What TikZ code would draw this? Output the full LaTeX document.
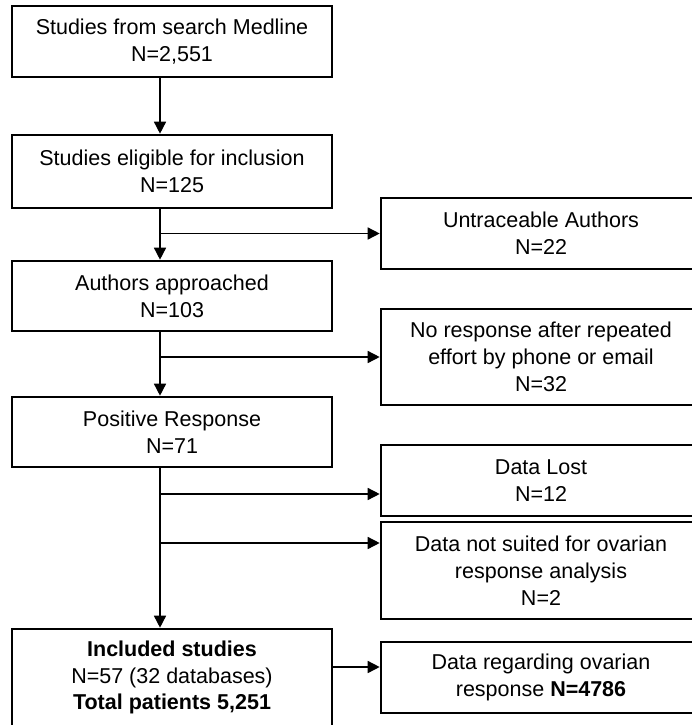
\documentclass[tikz,border=0pt]{standalone}
\usepackage{fontspec}
\setmainfont{Liberation Sans}
\usetikzlibrary{arrows.meta}

\newcommand*{\stemx}{160}
\newcommand*{\leftx}{172}
\newcommand*{\rightx}{541}

\begin{document}
\begin{tikzpicture}
[
	box/.style={draw,line width=2.6pt,minimum width=320pt,inner sep=0pt,align=center,font=\fontsize{21.5}{26.8}\selectfont},
	flow/.style={line width=1.5pt,-{Triangle[length=12pt,width=12pt]}},
	x=1pt,y=-1pt
]
	\useasboundingbox (0,0) rectangle (692,725);

	% left column
	\node[box,minimum height=71pt] (search) at (\leftx,41.5) {Studies from search Medline\\N=2,551};
	\node[box,minimum height=73pt] (eligible) at (\leftx,171.5) {Studies eligible for inclusion\\N=125};
	\node[box,minimum height=70pt] (approached) at (\leftx,296) {Authors approached\\N=103};
	\node[box,minimum height=70pt] (positive) at (\leftx,432) {Positive Response\\N=71};
	\node[box,minimum height=97pt] (included) at (\leftx,677.5) {\textbf{Included studies}\\N=57 (32 databases)\\\textbf{Total patients 5,251}};

	% right column
	\node[box,minimum height=71pt] (untraceable) at (\rightx,233.5) {Untraceable Authors\\N=22};
	\node[box,minimum height=96pt] (noresp) at (\rightx,357) {No response after repeated\\effort by phone or email\\N=32};
	\node[box,minimum height=71pt] (lost) at (\rightx,480.5) {Data Lost\\N=12};
	\node[box,minimum height=97pt] (notsuited) at (\rightx,570.5) {Data not suited for ovarian\\response analysis\\N=2};
	\node[box,minimum height=71pt] (ovarian) at (\rightx,677.5) {Data regarding ovarian\\response \textbf{N=4786}};

	% stem and entry points
	\coordinate (stem) at (\stemx,0);
	\coordinate (lostin) at ([yshift=-13.5pt]lost.west);
	\coordinate (notsuitedin) at ([yshift=27.5pt]notsuited.west);

	% down arrows
	\draw[flow] (search.south -| stem) -- (eligible.north -| stem);
	\draw[flow] (eligible.south -| stem) -- (approached.north -| stem);
	\draw[flow] (approached.south -| stem) -- (positive.north -| stem);
	\draw[flow] (positive.south -| stem) -- (included.north -| stem);

	% exclusions
	\draw[flow] (stem |- untraceable.west) -- (untraceable.west);
	\draw[flow] (stem |- noresp.west) -- (noresp.west);
	\draw[flow] (stem |- lostin) -- (lostin);
	\draw[flow] (stem |- notsuitedin) -- (notsuitedin);
	\draw[flow] ([yshift=10.5pt]included.east) -- ([yshift=10.5pt]ovarian.west);

\end{tikzpicture}
\end{document}
